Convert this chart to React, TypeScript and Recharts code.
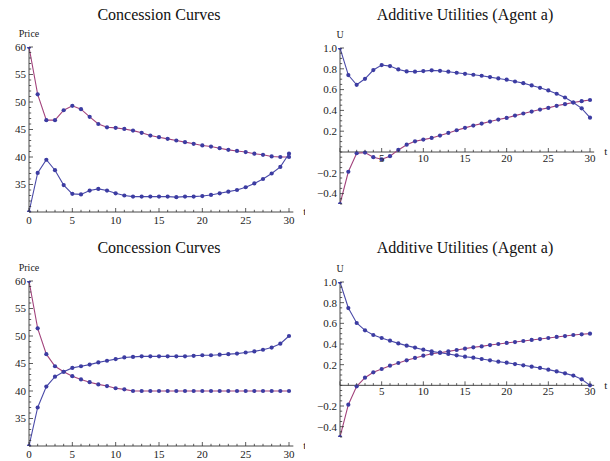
import { LineChart, Line, XAxis, YAxis, ReferenceLine } from 'recharts';

const FONT = '"Liberation Serif", "DejaVu Serif", serif';
const RED = '#a2437c';
const BLUE = '#4a4aa8';
const DOT = '#3c3ca2';
const AXIS = '#333';

const tValues = [0, 1, 2, 3, 4, 5, 6, 7, 8, 9, 10, 11, 12, 13, 14, 15, 16, 17, 18, 19, 20, 21, 22, 23, 24, 25, 26, 27, 28, 29, 30];

// top-left: concession curves
const sellerPrice1 = [60, 51.4, 46.7, 46.7, 48.5, 49.3, 48.7, 47.3, 46.0, 45.4, 45.3, 45.1, 44.8, 44.4, 43.9, 43.6, 43.3, 43.0, 42.7, 42.4, 42.1, 41.9, 41.6, 41.3, 41.1, 40.9, 40.6, 40.4, 40.1, 40.0, 40.0];
const buyerPrice1 = [30, 37.1, 39.5, 37.6, 34.9, 33.3, 33.2, 33.9, 34.2, 33.9, 33.4, 33.0, 32.8, 32.8, 32.8, 32.8, 32.8, 32.7, 32.8, 32.8, 32.9, 33.1, 33.4, 33.7, 34.0, 34.5, 35.2, 36.0, 37.0, 38.2, 40.6];

// top-right: additive utilities
const utilHigh1 = [1.0, 0.74, 0.646, 0.704, 0.788, 0.836, 0.826, 0.794, 0.775, 0.772, 0.778, 0.785, 0.781, 0.772, 0.762, 0.752, 0.743, 0.733, 0.72, 0.707, 0.695, 0.678, 0.662, 0.64, 0.617, 0.592, 0.56, 0.524, 0.476, 0.42, 0.33];
const utilLow1 = [-0.5, -0.19, -0.012, -0.006, -0.05, -0.07, -0.04, 0.02, 0.07, 0.103, 0.119, 0.135, 0.158, 0.183, 0.209, 0.232, 0.254, 0.273, 0.293, 0.312, 0.328, 0.35, 0.37, 0.389, 0.408, 0.424, 0.444, 0.46, 0.476, 0.489, 0.5];

// bottom-left: concession curves
const sellerPrice2 = [60, 51.4, 46.7, 44.5, 43.5, 42.7, 42.1, 41.6, 41.2, 40.9, 40.5, 40.3, 40.0, 40.0, 40.0, 40.0, 40.0, 40.0, 40.0, 40.0, 40.0, 40.0, 40.0, 40.0, 40.0, 40.0, 40.0, 40.0, 40.0, 40.0, 40.0];
const buyerPrice2 = [30, 37.0, 40.8, 42.6, 43.5, 44.2, 44.5, 44.8, 45.2, 45.5, 45.8, 46.1, 46.2, 46.3, 46.3, 46.3, 46.3, 46.3, 46.3, 46.4, 46.5, 46.5, 46.6, 46.7, 46.8, 47.0, 47.2, 47.5, 47.9, 48.6, 50.0];

// bottom-right: additive utilities
const utilHigh2 = [1.0, 0.748, 0.603, 0.532, 0.487, 0.458, 0.432, 0.406, 0.384, 0.365, 0.345, 0.329, 0.316, 0.303, 0.29, 0.277, 0.268, 0.255, 0.242, 0.229, 0.219, 0.206, 0.194, 0.181, 0.168, 0.152, 0.135, 0.116, 0.094, 0.058, 0.0];
const utilLow2 = [-0.5, -0.187, -0.01, 0.074, 0.126, 0.158, 0.19, 0.216, 0.242, 0.265, 0.287, 0.306, 0.316, 0.329, 0.342, 0.355, 0.368, 0.377, 0.39, 0.4, 0.41, 0.419, 0.429, 0.439, 0.448, 0.458, 0.468, 0.477, 0.487, 0.494, 0.5];

const priceTicks = [35, 40, 45, 50, 55, 60];
const priceTickLabels = ['35', '40', '45', '50', '55', '60'];
const utilTicks = [-0.4, -0.2, 0.2, 0.4, 0.6, 0.8, 1.0];
const utilTickLabels = ['\u22120.4', '\u22120.2', '0.2', '0.4', '0.6', '0.8', '1.0'];

// minor tick positions (major every 5 on t)
const xMinorTicks: number[] = [];
for (let i = 0; i <= 30; i++) xMinorTicks.push(i);
const priceMinor: number[] = [];
for (let i = 30; i <= 60; i++) priceMinor.push(i);
const utilMinor: number[] = [];
for (let i = -10; i <= 20; i++) utilMinor.push(Math.round(i * 5) / 100);

const X_MAX = 30.5;
const textStyle = { fontFamily: FONT };

type PanelProps = {
  left: number;
  top: number;
  width: number;
  height: number;
  marginTop: number;
  yAxisWidth: number;
  xAxisHeight: number;
  title: string;
  titleY: number;
  yLabel: string;
  red: number[];
  blue: number[];
  yDomain: [number, number];
  yMinor: number[];
  yMajor: number[];
  yMajorLabels: string[];
  axisAt: number;
  showZero: boolean;
  xLabelDy: number;
  plot30: number; // pixel width from t=0 to t=30
};

function Panel(p: PanelProps) {
  const data = tValues.map((t, i) => ({ t, red: p.red[i], blue: p.blue[i] }));
  const plotW = (p.plot30 * X_MAX) / 30;
  const marginRight = p.width - p.yAxisWidth - plotW;
  const plotH = p.height - p.marginTop - p.xAxisHeight;
  const [y0, y1] = p.yDomain;
  const axisOffset = ((p.axisAt - y0) / (y1 - y0)) * plotH;
  const titleX = p.yAxisWidth + p.plot30 / 2;

  const XTick = (props: any) => {
    const { x, y, payload } = props;
    const v = payload.value;
    const major = v % 5 === 0;
    const ay = y - axisOffset;
    return (
      <g>
        <line x1={x} x2={x} y1={ay} y2={ay - (major ? 4 : 2.2)} stroke={AXIS} strokeWidth={0.8} />
        {major && (v !== 0 || p.showZero) && (
          <text x={x} y={ay + p.xLabelDy} textAnchor="middle" fontSize={11} style={textStyle} fill="#222">
            {v}
          </text>
        )}
      </g>
    );
  };

  const YTick = (props: any) => {
    const { x, y, payload } = props;
    const v = payload.value;
    const idx = p.yMajor.findIndex((m) => Math.abs(m - v) < 1e-6);
    const major = idx >= 0;
    return (
      <g>
        <line x1={x} x2={x + (major ? 4 : 2.2)} y1={y} y2={y} stroke={AXIS} strokeWidth={0.8} />
        {major && (
          <text x={x - 3} y={y} dy="0.35em" textAnchor="end" fontSize={11} style={textStyle} fill="#222">
            {p.yMajorLabels[idx]}
          </text>
        )}
      </g>
    );
  };

  return (
    <div style={{ position: 'absolute', left: p.left, top: p.top, width: p.width, height: p.height }}>
      <div
        style={{
          position: 'absolute',
          left: titleX - 150,
          width: 300,
          top: p.titleY - 10,
          lineHeight: '20px',
          textAlign: 'center',
          fontFamily: FONT,
          fontSize: 16,
          color: '#111',
        }}
      >
        {p.title}
      </div>
      <LineChart
        width={p.width}
        height={p.height}
        data={data}
        margin={{ top: p.marginTop, right: marginRight, bottom: 0, left: 0 }}
      >
        <XAxis
          dataKey="t"
          type="number"
          domain={[0, X_MAX]}
          ticks={xMinorTicks}
          interval={0}
          axisLine={false}
          tickLine={false}
          tickSize={0}
          tickMargin={0}
          height={p.xAxisHeight}
          tick={XTick}
          label={{
            content: (lp: any) => {
              const vb = lp.viewBox;
              return (
                <text x={vb.x + vb.width + 10} y={vb.y - axisOffset} dy="0.3em" fontSize={11} style={textStyle} fill="#222">
                  t
                </text>
              );
            },
          }}
        />
        <YAxis
          type="number"
          domain={p.yDomain}
          ticks={p.yMinor}
          interval={0}
          allowDataOverflow
          width={p.yAxisWidth}
          axisLine={{ stroke: AXIS, strokeWidth: 0.9 }}
          tickLine={false}
          tickSize={0}
          tickMargin={0}
          tick={YTick}
          label={{
            content: (lp: any) => {
              const vb = lp.viewBox;
              return (
                <text x={vb.x + vb.width} y={vb.y - 10} textAnchor="middle" fontSize={10} style={textStyle} fill="#222">
                  {p.yLabel}
                </text>
              );
            },
          }}
        />
        <ReferenceLine y={p.axisAt} stroke={AXIS} strokeWidth={0.9} ifOverflow="visible" />
        <Line
          dataKey="red"
          type="linear"
          stroke={RED}
          strokeWidth={1.1}
          dot={{ r: 2.1, fill: DOT, stroke: 'none' }}
          isAnimationActive={false}
        />
        <Line
          dataKey="blue"
          type="linear"
          stroke={BLUE}
          strokeWidth={1.1}
          dot={{ r: 2.1, fill: DOT, stroke: 'none' }}
          isAnimationActive={false}
        />
      </LineChart>
    </div>
  );
}

export default function App() {
  return (
    <div style={{ position: 'absolute', left: 0, top: 0, width: 610, height: 461, background: '#fff' }}>
      <Panel
        left={0}
        top={0}
        width={305}
        height={230}
        marginTop={47}
        yAxisWidth={29}
        xAxisHeight={18}
        title="Concession Curves"
        titleY={15}
        yLabel="Price"
        red={sellerPrice1}
        blue={buyerPrice1}
        yDomain={[30, 60]}
        yMinor={priceMinor}
        yMajor={priceTicks}
        yMajorLabels={priceTickLabels}
        axisAt={30}
        showZero
        xLabelDy={12}
        plot30={260}
      />
      <Panel
        left={305}
        top={0}
        width={305}
        height={230}
        marginTop={48}
        yAxisWidth={35}
        xAxisHeight={26}
        title="Additive Utilities (Agent a)"
        titleY={15}
        yLabel="U"
        red={utilLow1}
        blue={utilHigh1}
        yDomain={[-0.5, 1.0]}
        yMinor={utilMinor}
        yMajor={utilTicks}
        yMajorLabels={utilTickLabels}
        axisAt={0}
        showZero={false}
        xLabelDy={10}
        plot30={250}
      />
      <Panel
        left={0}
        top={230}
        width={305}
        height={231}
        marginTop={51}
        yAxisWidth={29}
        xAxisHeight={15}
        title="Concession Curves"
        titleY={18}
        yLabel="Price"
        red={sellerPrice2}
        blue={buyerPrice2}
        yDomain={[30, 60]}
        yMinor={priceMinor}
        yMajor={priceTicks}
        yMajorLabels={priceTickLabels}
        axisAt={30}
        showZero
        xLabelDy={12}
        plot30={260}
      />
      <Panel
        left={305}
        top={230}
        width={305}
        height={231}
        marginTop={52}
        yAxisWidth={35}
        xAxisHeight={24}
        title="Additive Utilities (Agent a)"
        titleY={18}
        yLabel="U"
        red={utilLow2}
        blue={utilHigh2}
        yDomain={[-0.5, 1.0]}
        yMinor={utilMinor}
        yMajor={utilTicks}
        yMajorLabels={utilTickLabels}
        axisAt={0}
        showZero={false}
        xLabelDy={10}
        plot30={250}
      />
    </div>
  );
}
